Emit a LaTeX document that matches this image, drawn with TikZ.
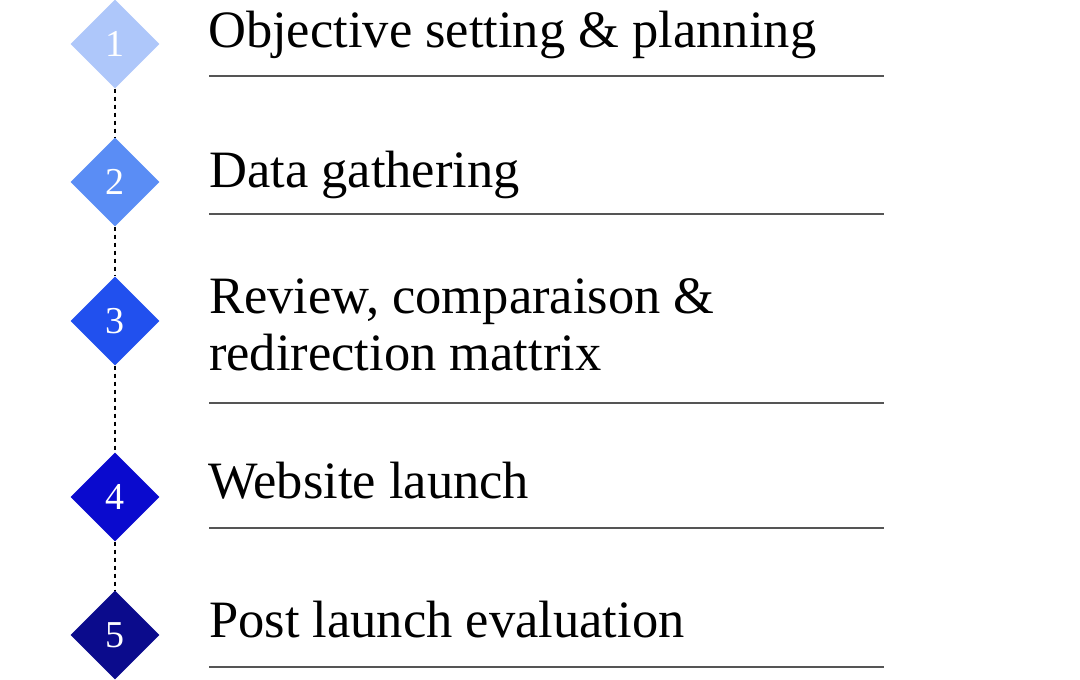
\documentclass[tikz,border=0pt]{standalone}
\usepackage{fontspec}
\setmainfont{Liberation Serif}
\usetikzlibrary{shapes.geometric}
\usepackage{xcolor}

\definecolor{phaseA}{HTML}{AEC7FA}
\definecolor{phaseB}{HTML}{5A8DF5}
\definecolor{phaseC}{HTML}{2150EE}
\definecolor{phaseD}{HTML}{0A0ACE}
\definecolor{phaseE}{HTML}{0B0B8C}
\definecolor{linegray}{HTML}{555555}

\begin{document}
\begin{tikzpicture}[x=1pt, y=-1pt,
    phase/.style={diamond, aspect=1, minimum width=89pt, minimum height=89pt, inner sep=0pt, text=white, font=\fontsize{38}{38}\selectfont},
    phasetext/.style={anchor=base west, align=left, inner sep=0pt, font=\fontsize{52.5}{57}\selectfont},
    divider/.style={draw=linegray, line width=1.3pt},
    trail/.style={line width=2.2pt, dash pattern=on 4pt off 4pt},
]
\useasboundingbox (0,0) rectangle (1080,680);

% --- phase markers ---
\node[phase, fill=phaseA] (objective) at (115,44) {1};
\node[phase, fill=phaseB] (gathering) at (115,182) {2};
\node[phase, fill=phaseC] (review) at (115,321) {3};
\node[phase, fill=phaseD] (launch) at (115,497) {4};
\node[phase, fill=phaseE] (evaluation) at (115,635) {5};

% --- phase titles ---
\node[phasetext] (objective-text) at (208,47) {Objective setting \& planning};
\node[phasetext] (gathering-text) at (209,187) {Data gathering};
\node[phasetext] (review-text) at (209,370) {Review, comparaison \&\\redirection mattrix};
\node[phasetext] (launch-text) at (208,498) {Website launch};
\node[phasetext] (evaluation-text) at (209,637) {Post launch evaluation};

% --- dotted trail between markers ---
\draw[trail] (objective) -- (gathering);
\draw[trail] (gathering) -- (review);
\draw[trail] (review) -- (launch);
\draw[trail] (launch) -- (evaluation);

% --- dividers ---
\draw[divider] (209,76) -- (884,76);
\draw[divider] (209,214) -- (884,214);
\draw[divider] (209,403) -- (884,403);
\draw[divider] (209,528) -- (884,528);
\draw[divider] (209,667) -- (884,667);
\end{tikzpicture}
\end{document}
